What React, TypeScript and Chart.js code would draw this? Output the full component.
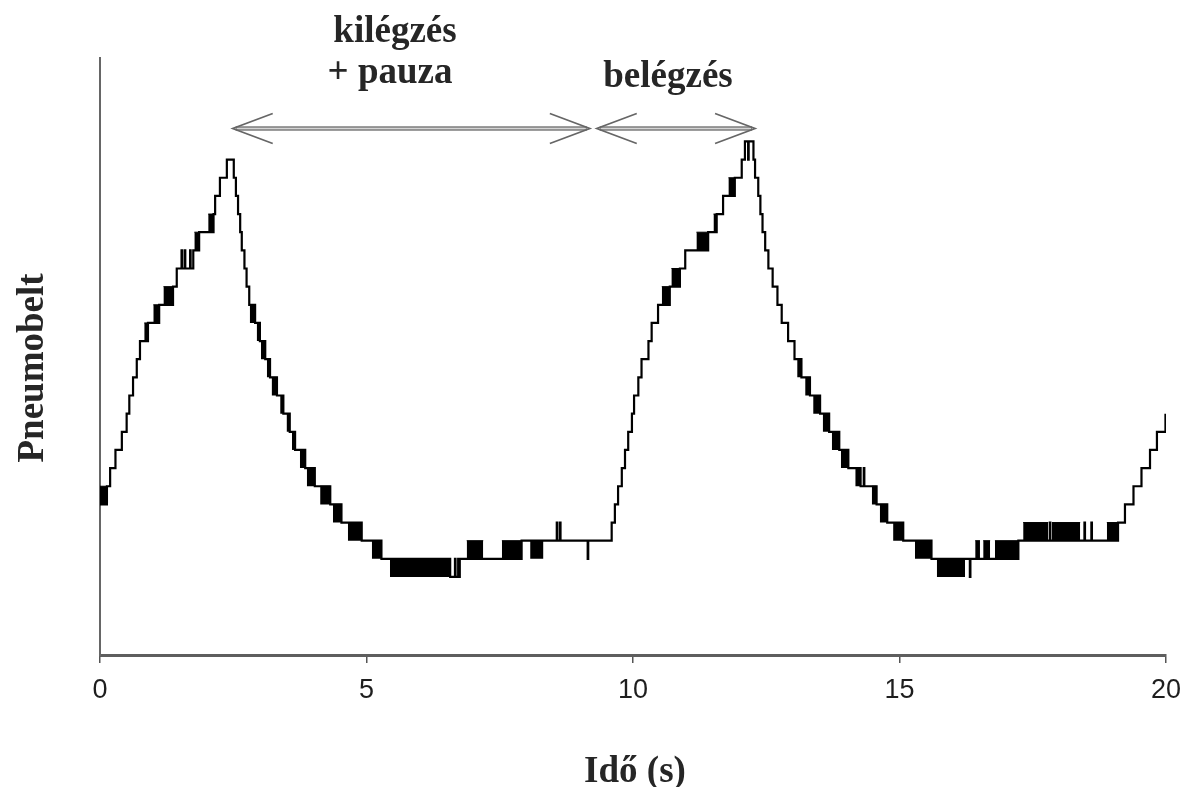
import React, { useEffect, useRef } from 'react';
import { Chart, registerables } from 'chart.js';

Chart.register(...registerables);

// x axis
const xMin = 0;
const xMax = 20;
const xTickValues = [0, 5, 10, 15, 20];
// y axis is in quantisation levels of the belt sensor (no tick labels)
const yMin = -4.3;
const yMax = 28.6;

// main stepped trace: [time (s), level] — the level changes to the value at that time
const trace: [number, number][] = [
  [0, 4], [0.13, 5], [0.19, 6], [0.29, 7], [0.41, 8], [0.5, 9], [0.55, 10], [0.62, 11],
  [0.69, 12], [0.75, 13], [0.9, 14], [1.11, 15], [1.37, 16], [1.44, 17],
  [1.53, 18], [1.54, 17], [1.59, 18], [1.6, 17], [1.69, 18], [1.7, 17],
  [1.75, 18], [1.86, 19], [2.13, 20], [2.16, 21], [2.25, 22], [2.38, 23],
  [2.51, 22], [2.55, 21], [2.59, 20], [2.63, 19], [2.66, 18], [2.71, 17], [2.75, 16],
  [2.8, 15], [2.91, 14], [3.0, 13], [3.1, 12], [3.19, 11], [3.32, 10], [3.44, 9],
  [3.56, 8], [3.66, 7], [3.85, 6], [4.03, 5], [4.32, 4], [4.53, 3], [4.91, 2],
  [5.28, 1], [6.57, 0], [6.66, 1], [6.67, 0], [6.72, 1], [6.73, 0], [6.75, 1],
  [7.91, 2], [8.57, 3], [8.58, 2], [8.63, 3], [8.64, 2], [9.15, 1], [9.16, 2],
  [9.6, 3], [9.66, 4], [9.72, 5], [9.79, 6], [9.85, 7], [9.91, 8], [9.98, 9],
  [10.02, 10], [10.1, 11], [10.16, 12], [10.29, 13], [10.35, 14], [10.47, 15],
  [10.69, 16], [10.88, 17], [10.98, 18], [11.41, 19], [11.57, 20], [11.69, 21],
  [11.91, 22], [12.04, 23], [12.1, 24], [12.16, 23], [12.17, 24],
  [12.26, 23], [12.29, 22], [12.35, 21], [12.39, 20], [12.43, 19], [12.48, 18],
  [12.54, 17], [12.62, 16], [12.71, 15], [12.79, 14], [12.91, 13], [13.03, 12],
  [13.16, 11], [13.32, 10], [13.51, 9], [13.68, 8], [13.87, 7], [14.04, 6],
  [14.27, 5], [14.33, 6], [14.34, 5], [14.57, 4], [14.77, 3], [15.07, 2], [15.6, 1],
  [16.32, 0], [16.33, 1], [17.23, 2], [17.82, 3], [17.83, 2], [18.47, 3], [18.48, 2],
  [18.6, 3], [18.61, 2], [19.1, 3], [19.23, 4], [19.39, 5], [19.54, 6], [19.7, 7],
  [19.83, 8], [19.99, 9],
];

// dense flicker between two adjacent levels: [from (s), to (s), low level, high level]
const noiseBands: [number, number, number, number][] = [
  [0.0, 0.13, 4, 5], [0.83, 0.9, 13, 14], [1.0, 1.11, 14, 15], [1.19, 1.37, 15, 16],
  [1.77, 1.86, 18, 19], [2.03, 2.13, 19, 20],
  [2.81, 2.91, 14, 15], [2.94, 3.0, 13, 14], [3.02, 3.1, 12, 13], [3.13, 3.19, 11, 12],
  [3.22, 3.32, 10, 11], [3.38, 3.44, 9, 10], [3.5, 3.56, 8, 9], [3.6, 3.66, 7, 8],
  [3.75, 3.85, 6, 7], [3.88, 4.03, 5, 6], [4.13, 4.32, 4, 5], [4.37, 4.53, 3, 4],
  [4.65, 4.91, 2, 3], [5.1, 5.28, 1, 2], [5.44, 6.57, 0, 1],
  [6.88, 7.19, 1, 2], [7.54, 7.91, 1, 2], [8.07, 8.32, 1, 2],
  [10.54, 10.69, 15, 16], [10.72, 10.88, 16, 17], [11.19, 11.41, 18, 19],
  [11.51, 11.57, 19, 20], [11.79, 11.91, 21, 22],
  [13.08, 13.16, 11, 12], [13.23, 13.32, 10, 11], [13.38, 13.51, 9, 10],
  [13.56, 13.68, 8, 9], [13.73, 13.87, 7, 8], [13.9, 14.04, 6, 7], [14.17, 14.27, 5, 6],
  [14.48, 14.57, 4, 5], [14.63, 14.77, 3, 4], [14.88, 15.07, 2, 3], [15.29, 15.6, 1, 2],
  [15.7, 16.23, 0, 1], [16.42, 16.51, 1, 2], [16.57, 16.7, 1, 2], [16.79, 17.23, 1, 2],
  [17.32, 17.79, 2, 3], [17.86, 18.39, 2, 3], [18.89, 19.1, 2, 3],
];

// phase arrows (time in s) and their labels
const arrowFrom = [2.49, 9.32];
const arrowTo = [9.19, 12.29];
const arrowLevel = 24.75;
const phaseLabels = [['kilégzés', '+ pauza'], ['belégzés']];

const xTitle = 'Idő (s)';
const yTitle = 'Pneumobelt';

const SERIF = '"Liberation Serif", "Times New Roman", serif';
const SANS = '"Liberation Sans", Arial, sans-serif';

function makeOverlay(from: number[], to: number[], level: number, labels: string[][], xt: string, yt: string) {
  return {
    id: 'overlay',
    afterDraw(chart: any) {
      const { ctx, scales } = chart;
      const xs = scales.x;
      const ys = scales.y;
      ctx.save();
      from.forEach((a, i) => {
        const x0 = xs.getPixelForValue(a);
        const x1 = xs.getPixelForValue(to[i]);
        const yy = Math.round(ys.getPixelForValue(level)) + 0.5;
        ctx.lineCap = 'butt';
        ctx.strokeStyle = '#7c7c7c';
        ctx.lineWidth = 4.5;
        ctx.beginPath();
        ctx.moveTo(x0 + 3, yy);
        ctx.lineTo(x1 - 3, yy);
        ctx.stroke();
        ctx.strokeStyle = '#d4d4d4';
        ctx.lineWidth = 1.5;
        ctx.beginPath();
        ctx.moveTo(x0 + 4, yy);
        ctx.lineTo(x1 - 4, yy);
        ctx.stroke();
        ctx.strokeStyle = '#666';
        ctx.lineWidth = 1.7;
        ctx.beginPath();
        ctx.moveTo(x0 + 40, yy - 15);
        ctx.lineTo(x0, yy);
        ctx.lineTo(x0 + 40, yy + 15);
        ctx.moveTo(x1 - 40, yy - 15);
        ctx.lineTo(x1, yy);
        ctx.lineTo(x1 - 40, yy + 15);
        ctx.stroke();
      });
      ctx.fillStyle = '#262626';
      ctx.font = `bold 37px ${SERIF}`;
      ctx.textAlign = 'center';
      ctx.textBaseline = 'alphabetic';
      ctx.fillText(labels[0][0], 395, 42);
      ctx.fillText(labels[0][1], 390, 83);
      ctx.fillText(labels[1][0], 668, 87);
      ctx.fillText(xt, 635, 782);
      ctx.translate(43, 368);
      ctx.rotate(-Math.PI / 2);
      ctx.fillText(yt, 0, 0);
      ctx.restore();
    },
  };
}

export default function App() {
  const ref = useRef<HTMLCanvasElement | null>(null);
  useEffect(() => {
    if (!ref.current) return;
    const tickVals = xTickValues.slice();
    const traceData = trace.map(([t, v]) => ({ x: t, y: v }));
    const bandSets = noiseBands.map(([t0, t1, lo, hi]) => ({
      data: [{ x: t0, y: hi }, { x: t1, y: hi }],
      borderColor: '#000',
      borderWidth: 1,
      backgroundColor: '#000',
      pointRadius: 0,
      fill: { value: lo },
    }));
    const overlay = makeOverlay(arrowFrom, arrowTo, arrowLevel, phaseLabels, xTitle, yTitle);
    const chart = new Chart(ref.current, {
      type: 'line',
      data: {
        datasets: [
          {
            data: traceData,
            stepped: true,
            borderColor: '#000',
            borderWidth: 2.2,
            pointRadius: 0,
            fill: false,
          } as any,
          ...bandSets,
        ],
      },
      options: {
        responsive: false,
        animation: false,
        events: [],
        layout: { padding: { top: 58, right: 20, left: 0, bottom: 0 } },
        plugins: { legend: { display: false }, tooltip: { enabled: false } },
        scales: {
          x: {
            type: 'linear',
            min: xMin,
            max: xMax,
            afterBuildTicks: (s: any) => { s.ticks = tickVals.map((v) => ({ value: v })); },
            ticks: {
              color: '#1e1e1e',
              font: { family: SANS, size: 27 },
              padding: 11,
            },
            grid: { display: true, drawOnChartArea: false, drawTicks: true, tickLength: 8, color: '#555', lineWidth: 1.5 },
            border: { display: true, color: '#5e5e5e', width: 3 },
            afterFit: (s: any) => {
              s.height = 132;
              s.paddingLeft = 0;
              s.paddingRight = 0;
            },
          },
          y: {
            type: 'linear',
            min: yMin,
            max: yMax,
            ticks: { display: false },
            grid: { display: false, drawTicks: false },
            border: { display: true, color: '#666', width: 2 },
            afterFit: (s: any) => { s.width = 100; },
          },
        },
      } as any,
      plugins: [overlay],
    });
    return () => chart.destroy();
  }, []);
  return (
    <div style={{ position: 'absolute', left: 0, top: 0, width: 1186, height: 787, background: '#fff' }}>
      <canvas ref={ref} width={1186} height={787} />
    </div>
  );
}
